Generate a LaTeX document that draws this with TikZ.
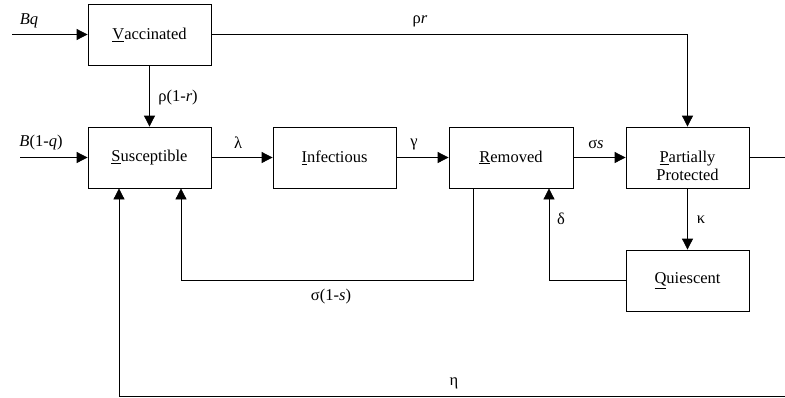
\documentclass[tikz,border=0pt]{standalone}
\usepackage{fontspec}
\setmainfont{Liberation Serif}
\usetikzlibrary{arrows.meta}
\begin{document}
\begin{tikzpicture}[x=1pt,y=-1pt,
  font=\fontsize{16.5}{19}\selectfont,
  box/.style={draw, line width=0.8pt, minimum width=123pt, minimum height=61pt, inner sep=0pt},
  arr/.style={line width=0.8pt, -{Triangle[length=11pt,width=11pt]}},
  ln/.style={line width=0.8pt},
  lab/.style={inner sep=0pt}]
\useasboundingbox (0,0) rectangle (785,397);
% boxes
\node[box] (V) at (149.5,34.5) {\underline{V}accinated};
\node[box] (S) at (149.5,157.5) {\underline{S}usceptible};
\node[box] (I) at (334.5,157.5) {\underline{I}nfectious};
\node[box, minimum width=124pt] (R) at (511,157.5) {\underline{R}emoved};
\node[box] (P) at (687.5,157.5) {};
\node[align=center, inner sep=0pt, font=\fontsize{16.5}{18}\selectfont] (Ptext) at (687.5,166) {\underline{P}artially\\Protected};
\node[box] (Q) at (687.5,280.5) {\underline{Q}uiescent};
% free ends
\coordinate (bq) at (12,34.5);
\coordinate (bmq) at (20,157.5);
\coordinate (pout) at (785,157.5);
\coordinate (etain) at (785,396);
\coordinate (sl) at (181,280);
% connectors
\draw[arr] (bq) -- (V.west);
\draw[arr] (bmq) -- (S.west);
\draw[arr] (V.south) -- (S.north);
\draw[arr] (S.east) -- (I.west);
\draw[arr] (I.east) -- (R.west);
\draw[arr] (R.east) -- (P.west);
\draw[arr] (V.east) -| (P.north);
\draw[ln] (P.east) -- (pout);
\draw[arr] (P.south) -- (Q.north);
\draw[arr] (Q.west) -| ([xshift=38pt]R.south);
\draw[arr] ([xshift=-38pt]R.south) |- (sl) -- (sl |- S.south);
\draw[arr] (etain) -| ([xshift=-30.5pt]S.south);
% labels
\node[lab] (lBq) at (29,21) {\textit{Bq}};
\node[lab] (lrho1) at (178,98) {ρ(1-\textit{r})};
\node[lab] (lB1q) at (41,143) {\textit{B}(1-\textit{q})};
\node[lab] (llam) at (238,143) {λ};
\node[lab] (lgam) at (414,144) {γ};
\node[lab] (lsig) at (596,144) {σ\textit{s}};
\node[lab] (lrho) at (420,21) {ρ\textit{r}};
\node[lab] (lkap) at (701,220) {κ};
\node[lab] (ldel) at (561,219) {δ};
\node[lab] (lsig1) at (331,297) {σ(1-\textit{s})};
\node[lab] (leta) at (454,383) {η};
\end{tikzpicture}
\end{document}
